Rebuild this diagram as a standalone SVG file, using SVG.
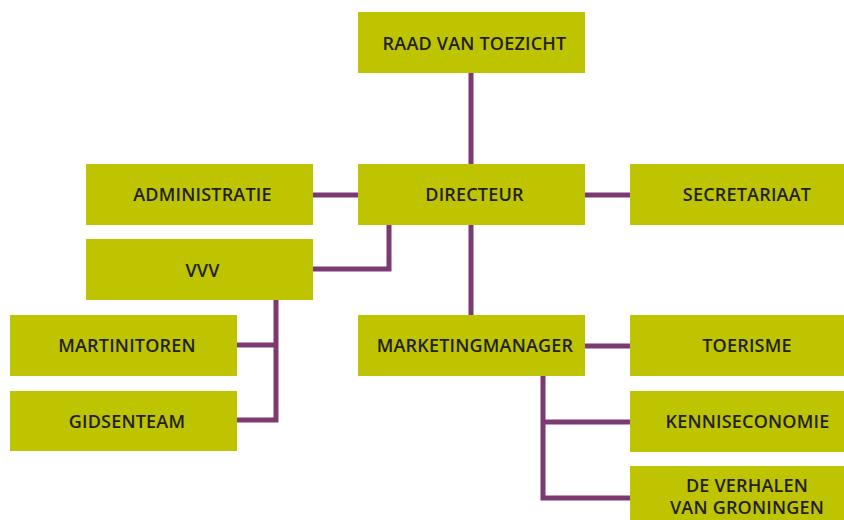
<svg xmlns="http://www.w3.org/2000/svg" width="844" height="520" viewBox="0 0 844 520">
<style>
.box{fill:#bec400}
.lbl{font-family:"Open Sans","Liberation Sans",sans-serif;font-weight:600;font-size:18px;fill:#231f20;text-anchor:middle;letter-spacing:0.2px}
.con{fill:none;stroke:#7b3a72;stroke-width:5}
</style>
<rect width="844" height="520" fill="#ffffff"/>
<g id="connectors">
<path class="con" d="M471,72 V165"/>
<path class="con" d="M471,224 V316"/>
<path class="con" d="M312,195 H359"/>
<path class="con" d="M584,195 H631"/>
<path class="con" d="M389,224 V269 H312"/>
<path class="con" d="M276,299 V420 H236 M236,345 H276"/>
<path class="con" d="M584,346 H631"/>
<path class="con" d="M543,375 V498 H631 M543,422 H631"/>
</g>
<g id="raad"><rect class="box" x="358" y="12" width="227" height="61"/><text class="lbl" x="474.5" y="50">RAAD VAN TOEZICHT</text></g>
<g id="directeur"><rect class="box" x="358" y="164" width="227" height="61"/><text class="lbl" x="474.5" y="201">DIRECTEUR</text></g>
<g id="administratie"><rect class="box" x="86" y="164" width="227" height="61"/><text class="lbl" x="202.5" y="201">ADMINISTRATIE</text></g>
<g id="secretariaat"><rect class="box" x="630" y="164" width="227" height="61"/><text class="lbl" x="747" y="201">SECRETARIAAT</text></g>
<g id="vvv"><rect class="box" x="86" y="239" width="227" height="61"/><text class="lbl" x="202.5" y="277">VVV</text></g>
<g id="martinitoren"><rect class="box" x="10" y="315" width="227" height="61"/><text class="lbl" x="127" y="352">MARTINITOREN</text></g>
<g id="gidsenteam"><rect class="box" x="10" y="391" width="227" height="60"/><text class="lbl" x="127" y="428">GIDSENTEAM</text></g>
<g id="marketingmanager"><rect class="box" x="358" y="315" width="227" height="61"/><text class="lbl" x="475" y="352">MARKETINGMANAGER</text></g>
<g id="toerisme"><rect class="box" x="630" y="315" width="227" height="61"/><text class="lbl" x="747" y="352">TOERISME</text></g>
<g id="kenniseconomie"><rect class="box" x="630" y="391" width="227" height="61"/><text class="lbl" x="747.5" y="428">KENNISECONOMIE</text></g>
<g id="verhalen"><rect class="box" x="630" y="466" width="227" height="61"/><text class="lbl" x="747" y="492">DE VERHALEN</text><text class="lbl" x="747" y="514">VAN GRONINGEN</text></g>
</svg>
